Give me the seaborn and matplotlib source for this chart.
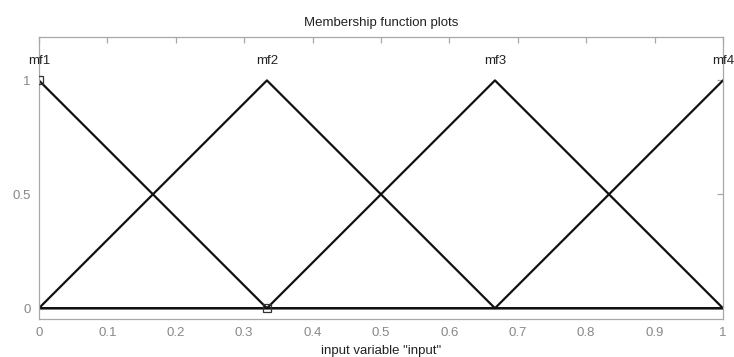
import numpy as np
import pandas as pd
import matplotlib
matplotlib.use("Agg")
import matplotlib.pyplot as plt
import seaborn as sns

# Triangular membership functions, defined by their values at the breakpoints
breakpoints = [0.0, 1 / 3, 2 / 3, 1.0]
mf_names = ["mf1", "mf2", "mf3", "mf4"]
mf1 = [1, 0, 0, 0]
mf2 = [0, 1, 0, 0]
mf3 = [0, 0, 1, 0]
mf4 = [0, 0, 0, 1]
peaks = [0.0, 1 / 3, 2 / 3, 1.0]

# Vertex handles of the selected function
handle_x = [0.0, 1 / 3]
handle_y = [1.0, 0.0]

x_ticks = [round(v, 1) for v in np.arange(0, 1.01, 0.1)]
x_tick_labels = ["0", "0.1", "0.2", "0.3", "0.4", "0.5", "0.6", "0.7", "0.8", "0.9", "1"]
y_ticks = [0, 0.5, 1]
y_tick_labels = ["0", "0.5", "1"]

rows = []
for name, vals in zip(mf_names, [mf1, mf2, mf3, mf4]):
    for xv, yv in zip(breakpoints, vals):
        rows.append({"x": xv, "mu": yv, "mf": name})
df = pd.DataFrame(rows)

sns.set_theme(style="white")
plt.rcParams["font.family"] = ["Liberation Sans", "DejaVu Sans"]

fig = plt.figure(figsize=(7.34, 3.57), dpi=100)
ax = fig.add_axes([0.053, 0.106, 0.932, 0.79])

sns.lineplot(data=df, x="x", y="mu", hue="mf", units="mf", estimator=None,
             palette=["#111111"] * 4, linewidth=1.6, legend=False, ax=ax,
             sort=False)

ax.plot(handle_x, handle_y, linestyle="none", marker="s", markersize=5.5,
        markerfacecolor="none", markeredgecolor="#333333", markeredgewidth=0.9,
        zorder=5)

for name, px in zip(mf_names, peaks):
    ax.text(px, 1.085, name, ha="center", va="center", fontsize=9.5,
            color="#222222")

ax.set_xlim(0, 1)
ax.set_ylim(-0.048, 1.19)
ax.set_xticks(x_ticks)
ax.set_xticklabels(x_tick_labels)
ax.set_yticks(y_ticks)
ax.set_yticklabels(y_tick_labels)

grey = "#a8a8a8"
for side in ["left", "right", "top", "bottom"]:
    ax.spines[side].set_visible(True)
    ax.spines[side].set_color(grey)
    ax.spines[side].set_linewidth(0.9)
ax.tick_params(axis="both", direction="in", length=4, width=0.9, color=grey,
               labelcolor="#888888", labelsize=9.5, top=True, right=True,
               pad=6)

ax.set_xlabel('input variable "input"', fontsize=9.5, color="#222222",
              labelpad=4)
ax.set_ylabel("")
ax.set_title("Membership function plots", fontsize=9.5, color="#222222",
             pad=8)

fig.savefig("out.png", dpi=100)
